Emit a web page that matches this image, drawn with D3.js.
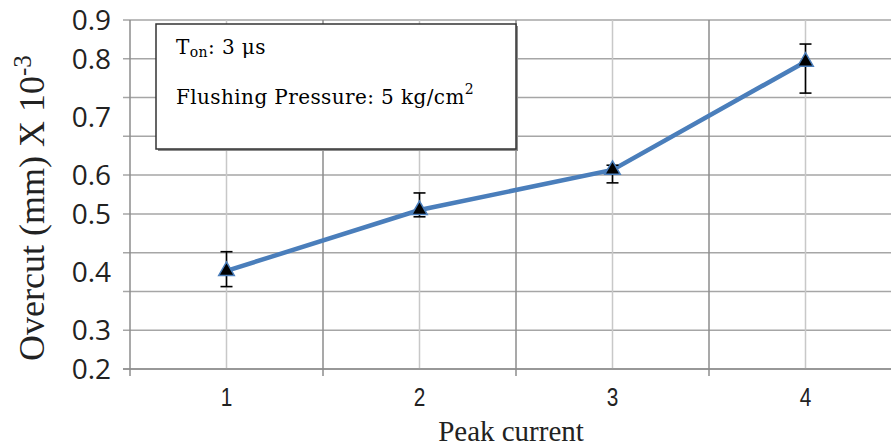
<!DOCTYPE html>
<html>
<head>
<meta charset="utf-8">
<style>
  body { margin: 0; background: #fff; }
  svg { display: block; }
  .grid line { stroke: #a6a6a6; stroke-width: 1.5px; }
  .vgrid-minor line { stroke: #c8c8c8; stroke-width: 1.5px; }
  .vgrid-major line { stroke: #8c8c8c; stroke-width: 1.5px; }
  .axis line { stroke: #8c8c8c; stroke-width: 1.5px; }
  .ylab { font-family: "Open Sans", sans-serif; font-size: 28px; fill: #222; }
  .xlab { font-family: "Liberation Sans", sans-serif; font-size: 26px; fill: #222; }
  .title { font-family: "Liberation Serif", serif; fill: #222; }
  .note { font-family: "DejaVu Serif", serif; font-size: 20px; letter-spacing: 0.4px; fill: #000; }
</style>
</head>
<body>
<div id="chart"></div>
<script src="https://cdn.jsdelivr.net/npm/d3@7"></script>
<script>
// data
var categories = ["1", "2", "3", "4"];
var overcut = [0.402, 0.51, 0.609, 0.795];
var errUpper = [0.435, 0.554, 0.617, 0.838];
var errLower = [0.375, 0.495, 0.58, 0.741];
var yTicks = [0.9, 0.8, 0.7, 0.6, 0.5, 0.4, 0.3, 0.2];

var width = 891, height = 447;
var plotLeft = 130, plotTop = 20, plotBottom = 369;
var nGrid = 9;
var step = (plotBottom - plotTop) / nGrid;
// the tick labels of the source sit on uneven grid rows
var tickRows = [0, 1, 2.5, 4, 5, 6.5, 8, 9];

var svg = d3.select("#chart").append("svg")
  .attr("width", width)
  .attr("height", height);

var x = d3.scaleBand()
  .domain(categories)
  .range([plotLeft, plotLeft + 193 * 4]);

var y = d3.scaleLinear()
  .domain(yTicks)
  .range(tickRows.map(function (r) { return plotTop + r * step; }));

// horizontal grid
svg.append("g").attr("class", "grid")
  .selectAll("line")
  .data(d3.range(nGrid + 1))
  .enter().append("line")
  .attr("x1", plotLeft - 7)
  .attr("x2", width)
  .attr("y1", function (d) { return plotTop + d * step; })
  .attr("y2", function (d) { return plotTop + d * step; });

// vertical grid at category centres
svg.append("g").attr("class", "vgrid-minor")
  .selectAll("line")
  .data(categories)
  .enter().append("line")
  .attr("x1", function (d) { return x(d) + x.bandwidth() / 2; })
  .attr("x2", function (d) { return x(d) + x.bandwidth() / 2; })
  .attr("y1", plotTop)
  .attr("y2", plotBottom);

// vertical grid at category boundaries
svg.append("g").attr("class", "vgrid-major")
  .selectAll("line")
  .data(categories.slice(1))
  .enter().append("line")
  .attr("x1", function (d) { return x(d); })
  .attr("x2", function (d) { return x(d); })
  .attr("y1", plotTop)
  .attr("y2", plotBottom + 7);

// axis lines
var axes = svg.append("g").attr("class", "axis");
axes.append("line")
  .attr("x1", plotLeft).attr("x2", plotLeft)
  .attr("y1", plotTop).attr("y2", plotBottom + 7);
axes.append("line")
  .attr("x1", plotLeft - 7).attr("x2", width)
  .attr("y1", plotBottom).attr("y2", plotBottom);

// y tick labels
svg.append("g")
  .selectAll("text")
  .data(yTicks)
  .enter().append("text")
  .attr("class", "ylab")
  .attr("x", 111)
  .attr("y", function (d) { return y(d); })
  .attr("dy", "0.36em")
  .attr("text-anchor", "end")
  .text(function (d) { return d3.format(".1f")(d); });

// x tick labels (narrow look)
svg.append("g")
  .selectAll("text")
  .data(categories)
  .enter().append("text")
  .attr("class", "xlab")
  .attr("transform", function (d) {
    return "translate(" + (x(d) + x.bandwidth() / 2) + ",406) scale(0.8,1)";
  })
  .attr("text-anchor", "middle")
  .text(function (d) { return d; });

// axis titles
svg.append("text")
  .attr("class", "title")
  .attr("font-size", 29)
  .attr("x", 511)
  .attr("y", 441)
  .attr("text-anchor", "middle")
  .text("Peak current");

var yt = svg.append("text")
  .attr("class", "title")
  .attr("font-size", 36)
  .attr("text-anchor", "middle")
  .attr("transform", "translate(44,208) rotate(-90)");
yt.append("tspan").text("Overcut (mm) X 10");
yt.append("tspan").attr("dy", -13).attr("font-size", 25).text("-3");

// note box
var box = svg.append("g");
box.append("rect")
  .attr("x", 158).attr("y", 26)
  .attr("width", 360).attr("height", 125)
  .attr("fill", "#8c8c8c");
box.append("rect")
  .attr("x", 156).attr("y", 24)
  .attr("width", 360).attr("height", 125)
  .attr("fill", "#fff")
  .attr("stroke", "#333")
  .attr("stroke-width", 1.5);
var t1 = box.append("text").attr("class", "note").attr("x", 176).attr("y", 54);
t1.append("tspan").text("T");
t1.append("tspan").attr("font-size", 14).attr("dy", 3).text("on");
t1.append("tspan").attr("dy", -3).text(": 3  \u03bcs");
var t2 = box.append("text").attr("class", "note").attr("x", 176).attr("y", 104);
t2.append("tspan").text("Flushing Pressure: 5 kg/cm");
t2.append("tspan").attr("font-size", 14).attr("dy", -10).text("2");

// line
var cx = function (i) { return x(categories[i]) + x.bandwidth() / 2; };
var line = d3.line()
  .x(function (d, i) { return cx(i); })
  .y(function (d) { return y(d); });

svg.append("path")
  .datum(overcut)
  .attr("fill", "none")
  .attr("stroke", "#4a7ebb")
  .attr("stroke-width", 4.5)
  .attr("d", line);

// error bars
var eb = svg.append("g").attr("stroke", "#000").attr("stroke-width", 1.6);
overcut.forEach(function (v, i) {
  var xc = cx(i);
  eb.append("line").attr("x1", xc).attr("x2", xc)
    .attr("y1", y(errUpper[i])).attr("y2", y(errLower[i]));
  [errUpper[i], errLower[i]].forEach(function (e) {
    eb.append("line").attr("x1", xc - 6).attr("x2", xc + 6)
      .attr("y1", y(e)).attr("y2", y(e));
  });
});

// triangle markers
svg.append("g")
  .selectAll("path")
  .data(overcut)
  .enter().append("path")
  .attr("transform", function (d, i) { return "translate(" + cx(i) + "," + y(d) + ")"; })
  .attr("d", d3.symbol().type(d3.symbolTriangle).size(105))
  .attr("fill", "#000")
  .attr("stroke", "#4a7ebb")
  .attr("stroke-width", 1.5);
</script>
</body>
</html>
